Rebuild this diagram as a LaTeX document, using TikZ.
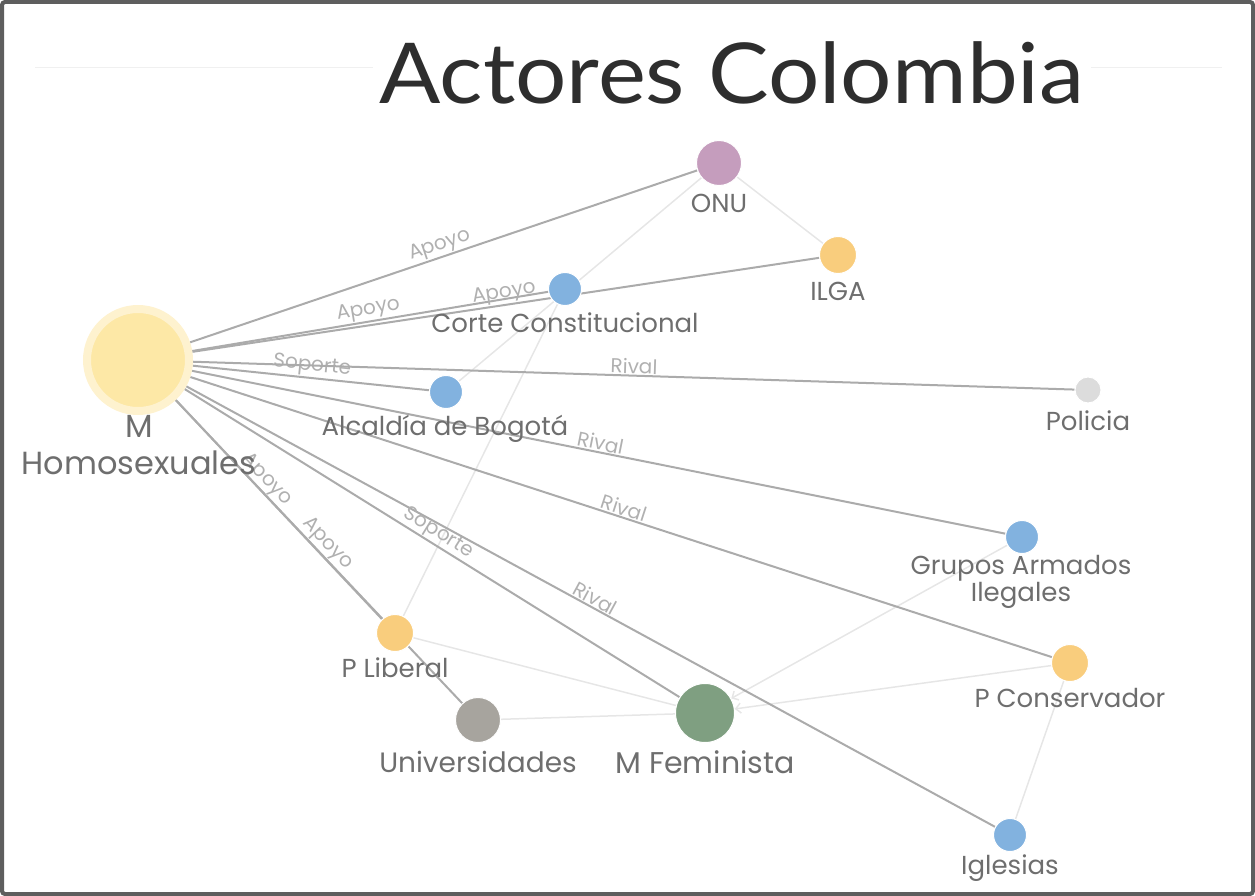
\documentclass[tikz,border=0pt]{standalone}
\usepackage{fontspec}
\setmainfont{Poppins}
\newfontfamily\titlefont[FakeStretch=1.08]{Lato}
\usetikzlibrary{arrows.meta,backgrounds}
\definecolor{mhyellow}{HTML}{FDE8A6}
\definecolor{mhhalo}{HTML}{FEF2CF}
\definecolor{onupurple}{HTML}{C59DBD}
\definecolor{partyorange}{HTML}{F9CD7D}
\definecolor{stateblue}{HTML}{82B2DF}
\definecolor{policegray}{HTML}{DCDCDC}
\definecolor{unigray}{HTML}{A7A49E}
\definecolor{femgreen}{HTML}{7F9F81}
\definecolor{namegray}{HTML}{6E6E6E}
\definecolor{tiegray}{HTML}{ABABAB}
\definecolor{weakgray}{HTML}{E6E6E6}
\definecolor{relgray}{HTML}{B0B0B0}
\definecolor{titlegray}{HTML}{2E2E2E}
\definecolor{framegray}{HTML}{5E5E5E}
\begin{document}
\begin{tikzpicture}[x=1pt,y=-1pt,
  actor/.style={circle,inner sep=0pt,draw=white,line width=1pt},
  actorname/.style={anchor=base,text=namegray,align=center,font=\fontsize{26}{23}\selectfont},
  tie/.style={draw=tiegray,line width=2pt},
  weak/.style={draw=weakgray,line width=1.5pt},
  rel/.style={midway,sloped,above,inner sep=1pt,text=relgray,font=\fontsize{20}{20}\selectfont}]
\useasboundingbox (0,0) rectangle (1255,896);
\draw[framegray,line width=4pt,rounded corners=3pt] (2,2) rectangle (1253,894);
\draw[gray!12,line width=1pt] (35,68) -- (1222,68);
\node[fill=white,text=titlegray,inner sep=6pt,font=\titlefont\fontsize{84}{84}\selectfont] (title) at (732,73) {Actores Colombia};
% actors
\node[actor,fill=mhyellow,draw=mhhalo,line width=8pt,minimum size=102pt] (mh) at (138,360) {};
\node[actor,fill=onupurple,minimum size=45pt] (onu) at (719,163) {};
\node[actor,fill=partyorange,minimum size=37pt] (ilga) at (838,255) {};
\node[actor,fill=stateblue,minimum size=33pt] (corte) at (565,289) {};
\node[actor,fill=stateblue,minimum size=33pt] (alcaldia) at (446,392) {};
\node[actor,fill=policegray,minimum size=26pt] (policia) at (1088,390) {};
\node[actor,fill=stateblue,minimum size=33pt] (grupos) at (1022,537) {};
\node[actor,fill=partyorange,minimum size=37pt] (pcons) at (1070,663) {};
\node[actor,fill=stateblue,minimum size=33pt] (iglesias) at (1010,835) {};
\node[actor,fill=partyorange,minimum size=37pt] (plib) at (395,633) {};
\node[actor,fill=unigray,minimum size=45pt] (univ) at (478,720) {};
\node[actor,fill=femgreen,minimum size=59pt] (mfem) at (705,713) {};
% names
\node[actorname,font=\fontsize{32}{37}\selectfont] (mh-l) at (139,474) {M\\Homosexuales};
\node[actorname] (onu-l) at (719,213) {ONU};
\node[actorname] (ilga-l) at (838,300) {ILGA};
\node[actorname] (corte-l) at (565,332) {Corte Constitucional};
\node[actorname] (alcaldia-l) at (445,435) {Alcaldía de Bogotá};
\node[actorname] (policia-l) at (1088,430) {Policia};
\node[actorname] (grupos-l) at (1021,601) {Grupos Armados\\Ilegales};
\node[actorname] (pcons-l) at (1070,707) {P Conservador};
\node[actorname] (iglesias-l) at (1010,874) {Iglesias};
\node[actorname] (plib-l) at (395,677) {P Liberal};
\node[actorname,font=\fontsize{28}{28}\selectfont] (univ-l) at (478,772) {Universidades};
\node[actorname,font=\fontsize{30}{30}\selectfont] (mfem-l) at (705,773) {M Feminista};
% ties
\begin{scope}[on background layer]
\draw[weak] (onu) -- (ilga);
\draw[weak] (onu) -- (alcaldia);
\draw[weak] (corte) -- (plib);
\draw[weak] (plib) -- (mfem);
\draw[weak] (univ) -- (mfem);
\draw[weak,-{Straight Barb[length=5pt,width=10pt]}] (grupos) -- (mfem);
\draw[weak,-{Straight Barb[length=5pt,width=10pt]}] (pcons) -- (mfem);
\draw[weak] (pcons) -- (iglesias);
\draw[tie] (mh) -- node[rel]{Apoyo} (onu);
\draw[tie] (mh) -- node[rel]{Apoyo} (corte);
\draw[tie] (mh) -- node[rel]{Apoyo} (ilga);
\draw[tie] (mh) -- node[rel]{Soporte} (alcaldia);
\draw[tie] (mh) -- node[rel]{Rival} (policia);
\draw[tie] (mh) -- node[rel]{Rival} (grupos);
\draw[tie] (mh) -- node[rel]{Rival} (pcons);
\draw[tie] (mh) -- node[rel]{Rival} (iglesias);
\draw[tie] (mh) -- node[rel]{Soporte} (mfem);
\draw[tie] (mh) -- node[rel,pos=0.4]{Apoyo} (plib);
\draw[tie] (mh) -- node[rel]{Apoyo} (univ);
\end{scope}
\end{tikzpicture}
\end{document}
